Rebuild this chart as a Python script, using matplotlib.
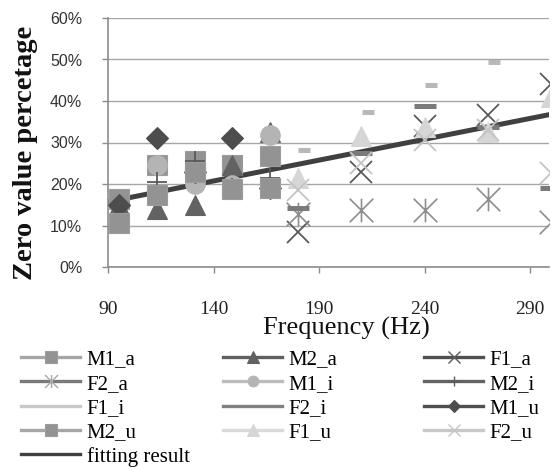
import numpy as np
import matplotlib
matplotlib.use("Agg")
import matplotlib.pyplot as plt
from matplotlib.lines import Line2D
from matplotlib.path import Path
from matplotlib.ticker import FuncFormatter

# frequencies (Hz)
male_freq = [95, 113, 131, 149, 167]
female_freq = [180, 210, 240, 270, 300]
f1i_freq = [183, 213, 243, 273]

# zero value percentage (%)
M1_a = [16.5, 24.5, 25.5, 24.5, 26.7]
M2_a = [15.0, 14.0, 15.0, 24.5, 32.6]
M1_i = [10.5, 24.5, 20.0, 19.8, 31.8]
M2_i = [10.5, 20.5, 25.5, 19.0, 21.4]
M1_u = [15.0, 31.0, 23.0, 31.0, 19.0]
M2_u = [10.5, 17.3, 23.0, 18.7, 19.0]

F1_a = [8.5, 23.0, 34.0, 36.6, 44.0]
F2_a = [12.8, 13.7, 13.7, 16.5, 10.8]
F1_i = [28.3, 37.3, 43.9, 49.4]
F2_i = [14.2, 27.5, 38.8, 33.7, 19.0]
F1_u = [21.4, 31.5, 33.7, 32.5, 41.0]
F2_u = [18.5, 25.0, 30.5, 33.0, 22.7]

fit_x = [90, 300]
fit_y = [15.7, 36.8]

xticks = [90, 140, 190, 240, 290]
yticks = [0, 10, 20, 30, 40, 50, 60]

# excel style star: x with a vertical bar
star = Path([(-1, -1), (1, 1), (-1, 1), (1, -1), (0, -1), (0, 1)],
            [Path.MOVETO, Path.LINETO, Path.MOVETO, Path.LINETO, Path.MOVETO, Path.LINETO])

serif = "Liberation Serif"
sans = "Liberation Sans"

W, H = 555, 470
fig = plt.figure(figsize=(W / 100, H / 100), dpi=100)
ax = fig.add_axes([108 / W, 1 - 267 / H, 441 / W, 249 / H])

ax.plot(fit_x, fit_y, color="#404040", lw=3.6, zorder=2, solid_capstyle="butt")

# (name, x, y, marker, size, face, edge, edge width, legend line colour)
series = [
    ("M1_a", male_freq, M1_a, "s", 14.5, "#939393", "#9c9c9c", 0.8, "#a6a6a6"),
    ("M2_a", male_freq, M2_a, "^", 15, "#626262", "#626262", 0.8, "#606060"),
    ("F1_a", female_freq, F1_a, "x", 16, "#5a5a5a", "#5a5a5a", 1.3, "#505050"),
    ("F2_a", female_freq, F2_a, star, 17, "none", "#8e8e8e", 1.2, "#7a7a7a"),
    ("M1_i", male_freq, M1_i, "o", 14, "#b4b4b4", "#b4b4b4", 0.8, "#bdbdbd"),
    ("M2_i", male_freq, M2_i, "+", 14, "#5a5a5a", "#5a5a5a", 1.3, "#636363"),
    ("F1_i", f1i_freq, F1_i, "_", 8.5, "#b8b8b8", "#b8b8b8", 3.6, "#c8c8c8"),
    ("F2_i", female_freq, F2_i, "_", 16.5, "#7a7a7a", "#7a7a7a", 3.6, "#808080"),
    ("M1_u", male_freq, M1_u, "D", 11.5, "#4d4d4d", "#4d4d4d", 0.8, "#4f4f4f"),
    ("M2_u", male_freq, M2_u, "s", 14.5, "#939393", "#9c9c9c", 0.8, "#a6a6a6"),
    ("F1_u", female_freq, F1_u, "^", 15, "#d6d6d6", "#d6d6d6", 0.8, "#dadada"),
    ("F2_u", female_freq, F2_u, "x", 16, "#c4c4c4", "#c4c4c4", 1.3, "#c8c8c8"),
]

handles = {}
for name, xs, ys, mk, ms, fc, ec, mew, lc in series:
    ax.plot(xs, ys, linestyle="none", marker=mk, ms=ms, mfc=fc, mec=ec, mew=mew, zorder=3)
    lms = ms * 0.55
    lmew = mew if mk != "_" else 0
    handles[name] = Line2D([], [], color=lc, lw=2.4, marker=mk if mk != "_" else None,
                           ms=lms, mfc=fc, mec=ec if fc != "none" else "#a8a8a8", mew=min(lmew, 1.0))
handles["fitting result"] = Line2D([], [], color="#404040", lw=2.4)

ax.set_xlim(90, 299)
ax.set_ylim(0, 60)
ax.set_xticks(xticks)
ax.set_yticks(yticks)
ax.yaxis.set_major_formatter(FuncFormatter(lambda v, p: "%d%%" % v))
ax.grid(axis="y", color="#a6a6a6", lw=1.0)
ax.set_axisbelow(True)
for s in ["top", "right"]:
    ax.spines[s].set_visible(False)
for s in ["left", "bottom"]:
    ax.spines[s].set_color("#8c8c8c")
    ax.spines[s].set_linewidth(1.2)
ax.tick_params(axis="both", direction="out", length=4.5, width=1, color="#8c8c8c")
ax.tick_params(axis="y", pad=14)
ax.tick_params(axis="x", pad=20)
for t in ax.get_yticklabels():
    t.set_fontfamily(sans)
    t.set_fontsize(11.5)
    t.set_color("#333333")
for t in ax.get_xticklabels():
    t.set_fontfamily(serif)
    t.set_fontsize(14)
    t.set_color("#222222")

fig.text(26 / W, 1 - 153 / H, "Zero value percetage", rotation=90, ha="center", va="center",
         fontfamily=serif, fontweight="bold", fontsize=20.5, color="#111111")
fig.text(346 / W, 1 - 328 / H, "Frequency (Hz)", ha="center", va="center",
         fontfamily=serif, fontsize=19, color="#111111")

columns = [
    (21, ["M1_a", "F2_a", "F1_i", "M2_u", "fitting result"]),
    (223, ["M2_a", "M1_i", "F2_i", "F1_u"]),
    (424, ["F1_a", "M2_i", "M1_u", "F2_u"]),
]
for x0, names in columns:
    fig.legend([handles[n] for n in names], names, loc="upper left",
               bbox_to_anchor=(x0 / W, 1 - 350 / H), frameon=False,
               borderpad=0, borderaxespad=0, handlelength=2.85, handletextpad=0.3,
               labelspacing=0.22, prop={"family": serif, "size": 15})

fig.savefig("out.png", dpi=100)
